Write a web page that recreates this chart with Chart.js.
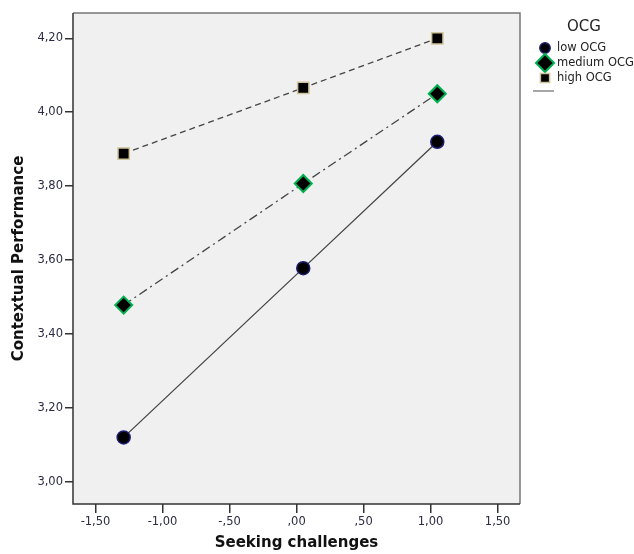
<!DOCTYPE html>
<html>
<head>
<meta charset="utf-8">
<script src="https://cdn.jsdelivr.net/npm/chart.js@4.4.1/dist/chart.umd.min.js"></script>
<style>
  html, body { margin: 0; padding: 0; background: #fff; }
  #wrap { width: 634px; height: 554px; position: relative; }
</style>
</head>
<body>
<div id="wrap"><canvas id="chart" width="634" height="554"></canvas></div>
<script>
// --- DATA ---
const seekingX = [-1.29, 0.05, 1.05];
const lowOCG = [3.12, 3.578, 3.92];
const mediumOCG = [3.478, 3.807, 4.05];
const highOCG = [3.888, 4.066, 4.20];
const xTicks = [-1.5, -1.0, -0.5, 0, 0.5, 1.0, 1.5];
const yTicks = [3.0, 3.2, 3.4, 3.6, 3.8, 4.0, 4.2];
const seriesNames = ['low OCG', 'medium OCG', 'high OCG'];

const FONT = '"DejaVu Sans", "Liberation Sans", sans-serif';
const lineColor = '#444';

function pts(ys) {
    return seekingX.map((x, i) => ({ x, y: ys[i] }));
}

// format like SPSS: comma decimals, no leading zero
function fmtX(v) {
    let s = Math.abs(v).toFixed(2).replace('.', ',');
    if (Math.abs(v) < 1) s = s.replace(/^0/, '');
    return (v < 0 ? '-' : '') + s;
}
function fmtY(v) {
    return v.toFixed(2).replace('.', ',');
}

const plotFrame = {
    id: 'plotFrame',
    beforeDraw(chart) {
        const { ctx, chartArea: a } = chart;
        ctx.save();
        ctx.fillStyle = '#f0f0f0';
        ctx.fillRect(a.left, a.top, a.right - a.left, a.bottom - a.top);
        ctx.restore();
    },
    afterDatasetsDraw(chart) {
        const { ctx, chartArea: a } = chart;
        ctx.save();
        ctx.lineWidth = 1.5;
        ctx.strokeStyle = '#777';
        ctx.beginPath();
        ctx.moveTo(a.left, a.top);
        ctx.lineTo(a.right, a.top);
        ctx.lineTo(a.right, a.bottom);
        ctx.stroke();
        ctx.strokeStyle = '#333';
        ctx.beginPath();
        ctx.moveTo(a.left, a.top);
        ctx.lineTo(a.left, a.bottom);
        ctx.lineTo(a.right, a.bottom);
        ctx.stroke();
        ctx.restore();
    }
};

// legend drawn to the right of the plot
const sideLegend = {
    id: 'sideLegend',
    afterDraw(chart) {
        const { ctx } = chart;
        ctx.save();
        ctx.fillStyle = '#222';
        ctx.font = '15px ' + FONT;
        ctx.textAlign = 'center';
        ctx.textBaseline = 'middle';
        ctx.fillText('OCG', 584, 27);
        ctx.font = '11.5px ' + FONT;
        ctx.textAlign = 'left';
        const rows = [48, 63, 78];
        const sizes = [5.2, 9, 6.5];
        chart.data.datasets.forEach((ds, i) => {
            const y = rows[i];
            ctx.fillStyle = '#000';
            ctx.strokeStyle = ds.pointBorderColor;
            ctx.lineWidth = ds.pointBorderWidth;
            Chart.helpers.drawPoint(ctx, {
                pointStyle: ds.pointStyle,
                radius: sizes[i],
                borderWidth: ds.pointBorderWidth
            }, 545, y);
            ctx.fillStyle = '#222';
            ctx.fillText(ds.label, 557, y);
        });
        ctx.strokeStyle = '#888';
        ctx.lineWidth = 1.5;
        ctx.beginPath();
        ctx.moveTo(533, 91);
        ctx.lineTo(554, 91);
        ctx.stroke();
        ctx.restore();
    }
};

new Chart(document.getElementById('chart'), {
    type: 'line',
    data: {
        datasets: [
            {
                label: seriesNames[0], data: pts(lowOCG),
                borderColor: lineColor, borderWidth: 1.3,
                pointStyle: 'circle', pointRadius: 6.5,
                pointBackgroundColor: '#000', pointBorderColor: '#1c1c70', pointBorderWidth: 1.5
            },
            {
                label: seriesNames[1], data: pts(mediumOCG),
                borderColor: lineColor, borderWidth: 1.3, borderDash: [9, 4, 2, 4],
                pointStyle: 'rectRot', pointRadius: 8.5,
                pointBackgroundColor: '#000', pointBorderColor: '#00b050', pointBorderWidth: 2
            },
            {
                label: seriesNames[2], data: pts(highOCG),
                borderColor: lineColor, borderWidth: 1.3, borderDash: [6, 4],
                pointStyle: 'rect', pointRadius: 8,
                pointBackgroundColor: '#000', pointBorderColor: '#cfc49a', pointBorderWidth: 1.5
            }
        ]
    },
    options: {
        responsive: false,
        animation: false,
        devicePixelRatio: 1,
        layout: { padding: { left: 0, right: 114, top: 13, bottom: 0 } },
        plugins: { legend: { display: false }, tooltip: { enabled: false } },
        scales: {
            x: {
                type: 'linear',
                min: -1.668, max: 1.667,
                afterBuildTicks: s => { s.ticks = xTicks.map(v => ({ value: v })); },
                afterFit: s => { s.height = 50; },
                grid: { display: true, drawOnChartArea: false, drawTicks: true, tickLength: 9, color: '#333', lineWidth: 1.5 },
                border: { display: false },
                ticks: { callback: v => fmtX(v), color: '#2c2c44', font: { family: FONT, size: 11.5 }, padding: 2, maxRotation: 0 },
                title: { display: true, text: 'Seeking challenges', color: '#111', font: { family: FONT, size: 15, weight: 'bold' }, padding: { top: 4, bottom: 2 } }
            },
            y: {
                type: 'linear',
                min: 2.9397, max: 4.2685,
                afterBuildTicks: s => { s.ticks = yTicks.map(v => ({ value: v })); },
                afterFit: s => { s.width = 73; },
                grid: { display: true, drawOnChartArea: false, drawTicks: true, tickLength: 8, color: '#333', lineWidth: 1.5 },
                border: { display: false },
                ticks: { callback: v => fmtY(v), color: '#2c2c44', font: { family: FONT, size: 11.5 }, padding: 2 },
                title: { display: true, text: 'Contextual Performance', color: '#111', font: { family: FONT, size: 15, weight: 'bold' }, padding: { top: 10, bottom: 4 } }
            }
        }
    },
    plugins: [plotFrame, sideLegend]
});
</script>
</body>
</html>
